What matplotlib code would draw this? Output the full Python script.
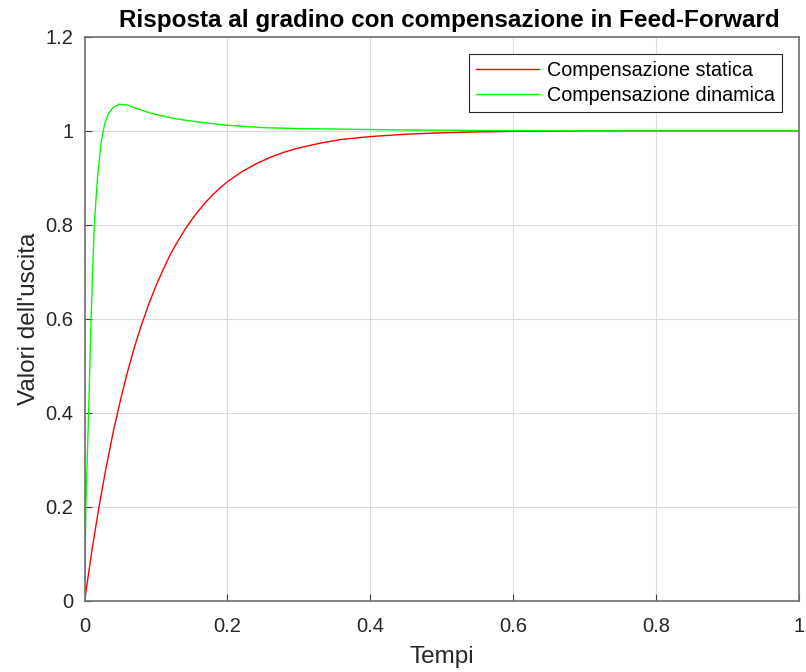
import numpy as np
import matplotlib
matplotlib.use("Agg")
import matplotlib.pyplot as plt

plt.rcParams['font.family'] = ['Liberation Sans', 'DejaVu Sans']

# values
t_static = [0, 0.01, 0.02, 0.03, 0.04, 0.05, 0.06, 0.07, 0.08, 0.09, 0.1, 0.11, 0.12,
            0.13, 0.14, 0.15, 0.16, 0.17, 0.18, 0.19, 0.2, 0.22, 0.24, 0.26, 0.28,
            0.3, 0.33, 0.36, 0.4, 0.45, 0.5, 0.55, 0.6, 0.7, 0.8, 1.0]
y_static = [0, 0.105, 0.199, 0.283, 0.359, 0.426, 0.487, 0.541, 0.589, 0.632, 0.671, 0.705, 0.737,
            0.764, 0.789, 0.811, 0.831, 0.849, 0.865, 0.879, 0.892, 0.913, 0.930, 0.944, 0.955,
            0.964, 0.974, 0.982, 0.988, 0.993, 0.996, 0.998, 0.999, 1.0, 1.0, 1.0]

t_dynamic = [0, 0.0017, 0.0056, 0.009, 0.0135, 0.018, 0.023, 0.028, 0.033, 0.04,
             0.048, 0.06, 0.07, 0.08, 0.09, 0.1, 0.12, 0.14, 0.17, 0.2, 0.25, 0.3,
             0.37, 0.45, 0.6, 0.8, 1.0]
y_dynamic = [0, 0.2, 0.4, 0.6, 0.8, 0.9, 0.975, 1.015, 1.036, 1.05,
             1.057, 1.055, 1.049, 1.044, 1.039, 1.035, 1.028, 1.023, 1.017, 1.012, 1.007, 1.005,
             1.0036, 1.002, 1.0005, 1.0, 1.0]

labels = ['Compensazione statica', 'Compensazione dinamica']
xticks = [0, 0.2, 0.4, 0.6, 0.8, 1]
yticks = [0, 0.2, 0.4, 0.6, 0.8, 1, 1.2]

fig = plt.figure(figsize=(8.06, 6.72), dpi=100)
ax = fig.add_axes([0.105, 0.106, 0.886, 0.839])

ax.plot(t_static, y_static, color='#ff0000', lw=1.0, label=labels[0])
ax.plot(t_dynamic, y_dynamic, color='#00ff00', lw=1.0, label=labels[1])

ax.set_xlim(0, 1)
ax.set_ylim(0, 1.2)
ax.set_xticks(xticks)
ax.set_xticklabels(['0', '0.2', '0.4', '0.6', '0.8', '1'])
ax.set_yticks(yticks)
ax.set_yticklabels(['0', '0.2', '0.4', '0.6', '0.8', '1', '1.2'])
ax.grid(True, color='#dcdcdc', lw=0.8)
ax.set_axisbelow(True)
ax.tick_params(direction='in', length=5, colors='#404040', labelsize=14.5, labelcolor='#262626')
ax.tick_params(axis='x', pad=12)
ax.tick_params(axis='y', pad=8)
for s in ax.spines.values():
    s.set_color('#707070')
    s.set_linewidth(1.2)

ax.set_xlabel('Tempi', fontsize=17.5, color='#262626', labelpad=7)
ax.set_ylabel("Valori dell'uscita", fontsize=17.5, color='#262626', labelpad=4)
ax.set_title('Risposta al gradino con compensazione in Feed-Forward',
             fontsize=17.5, fontweight='bold', color='#000000', pad=7, x=0.51)

leg = ax.legend(loc='upper right', fontsize=14.25, fancybox=False, framealpha=1,
                edgecolor='#262626', handlelength=3.2, borderpad=0.35,
                labelspacing=0.3, handletextpad=0.4, borderaxespad=0.86)
leg.get_frame().set_linewidth(0.8)

fig.savefig('out.png', dpi=100)
